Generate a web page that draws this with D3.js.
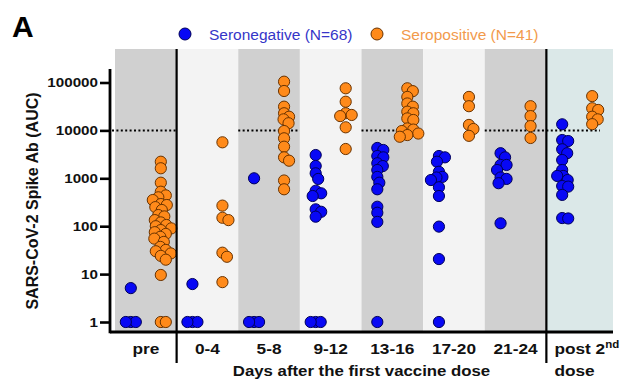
<!DOCTYPE html>
<html>
<head>
<meta charset="utf-8">
<script src="https://cdn.jsdelivr.net/npm/d3@7"></script>
<style>
  body { margin: 0; background: #fff; }
  text { font-family: "Liberation Sans", Arial, sans-serif; }
</style>
</head>
<body>
<script>
// categories
const groups = ['pre', '0-4', '5-8', '9-12', '13-16', '17-20', '21-24', 'post']
const yTicks = [1, 10, 100, 1000, 10000, 100000]
const threshold = 10000

// seronegative (blue) AUC values per group
const negPre = [5.1, 1, 1, 1]
const neg0_4 = [6.2, 1, 1, 1]
const neg5_8 = [1000, 1, 1, 1]
const neg9_12 = [3060, 1810, 1270, 970, 550, 486, 427, 225, 200, 158, 1, 1, 1]
const neg13_16 = [4300, 3900, 2920, 2740, 2060, 1800, 1490, 1070, 810, 590, 255, 191, 123, 1]
const neg17_20 = [2920, 2740, 2220, 1370, 1070, 1040, 920, 650, 427, 98, 20.6, 1]
const neg21_24 = [3340, 2740, 1900, 1900, 1490, 1040, 970, 790, 115]
const negPost = [13400, 6300, 6000, 4040, 3340, 2410, 1490, 1120, 1120, 920, 690, 670, 450, 148, 145]

// seropositive (orange) AUC values per group
const posPre = [2220, 1620, 809, 525, 440, 401, 352, 290, 277, 250, 218, 171, 160, 134, 120, 106, 100, 90, 83, 75, 69, 60, 55, 47, 37, 32, 30, 27, 24, 20, 9.6, 1, 1]
const pos0_4 = [5640, 269, 150, 134, 28, 23, 6.8]
const pos5_8 = [104000, 66500, 31300, 22800, 19300, 17000, 14100, 9700, 6840, 4570, 2740, 2330, 900, 590]
const pos9_12 = [75700, 39700, 22800, 21000, 19900, 11600, 4090]
const pos13_16 = [75700, 66000, 50000, 36500, 31300, 24600, 22800, 17800, 16500, 11000, 10400, 9700, 8600, 8000, 7370]
const pos17_20 = [50000, 32000, 13000, 10700, 7700]
const pos21_24 = [32000, 19900, 12300, 6950]
const posPost = [52000, 29000, 26700, 19300, 17000, 13500]

const negative = [negPre, neg0_4, neg5_8, neg9_12, neg13_16, neg17_20, neg21_24, negPost]
const positive = [posPre, pos0_4, pos5_8, pos9_12, pos13_16, pos17_20, pos21_24, posPost]

const w = 640
const h = 386
const plotLeft = 110
const plotRight = 613
const plotTop = 49
const plotBottom = 332

const svg = d3.select('body').append('svg')
    .attr('width', w)
    .attr('height', h)

const x = d3.scaleBand().domain(groups).range([115, 608])
const y = d3.scaleLog().domain([1, 100000]).range([322, 82.5])

const bandFill = ['#d0d0d0', '#f3f3f3', '#d0d0d0', '#f3f3f3', '#d0d0d0', '#f3f3f3', '#d0d0d0', '#dbe8e8']

// background bands
svg.selectAll('rect.band')
    .data(groups)
    .enter()
    .append('rect')
    .attr('class', 'band')
    .attr('x', d => x(d))
    .attr('y', plotTop)
    .attr('width', (d, i) => i === groups.length - 1 ? plotRight - x(d) : x.bandwidth())
    .attr('height', plotBottom - plotTop + 1)
    .attr('fill', (d, i) => bandFill[i])

// dotted threshold line on the grey bands and the post band
const dotted = [0, 2, 4, 6, 7]
svg.selectAll('line.thr')
    .data(dotted)
    .enter()
    .append('line')
    .attr('x1', i => i === 0 ? plotLeft + 2 : x(groups[i]))
    .attr('x2', i => i === 7 ? x(groups[i]) + x.bandwidth() - 8 : x(groups[i]) + x.bandwidth())
    .attr('y1', y(threshold))
    .attr('y2', y(threshold))
    .attr('stroke', '#000')
    .attr('stroke-width', 2)
    .attr('stroke-dasharray', '2,2.4')

// simple beeswarm so overlapping points spread sideways
function swarm(values, cx) {
    const placed = []
    const minD = 6
    values.forEach(v => {
        const py = y(v)
        // tied values at the floor sit closer together
        const d = v === 1 ? 4.8 : minD
        let off = 0
        for (let k = 0; k < 80; k++) {
            const o = (k % 2 ? 1 : -1) * Math.ceil(k / 2) * 0.5
            const hit = placed.some(p => (p.x - (cx + o)) ** 2 + (p.y - py) ** 2 < d * d)
            if (!hit) { off = o; break }
        }
        placed.push({ x: cx + off, y: py })
    })
    return placed
}

const dotR = 5.6
function drawSeries(series, shift, fill, stroke) {
    series.forEach((vals, i) => {
        const cx = x(groups[i]) + x.bandwidth() / 2 + shift
        svg.append('g').selectAll('circle')
            .data(swarm(vals, cx))
            .enter()
            .append('circle')
            .attr('cx', d => d.x)
            .attr('cy', d => d.y)
            .attr('r', dotR)
            .attr('fill', fill)
            .attr('stroke', stroke)
            .attr('stroke-width', 1)
    })
}
drawSeries(negative, -15, '#0808f5', '#00005a')
drawSeries(positive, 15, '#ff8a1a', '#6a3300')

// y axis
const yAxis = d3.axisLeft(y)
    .tickValues(yTicks)
    .tickFormat(d3.format('d'))
    .tickSize(10)
    .tickSizeOuter(0)
const ga = svg.append('g')
    .attr('transform', `translate(${plotLeft},0)`)
    .call(yAxis)
ga.select('.domain').remove()
ga.selectAll('.tick line').attr('stroke', '#000').attr('stroke-width', 2.6)
ga.selectAll('.tick text')
    .attr('x', -12 / 1.17)
    .attr('transform', 'scale(1.17,1)')
    .attr('font-size', 13)
    .attr('font-weight', 'bold')
    .attr('font-family', '"Liberation Sans", Arial, sans-serif')
    .attr('fill', '#111')

svg.append('line')
    .attr('x1', plotLeft).attr('x2', plotLeft)
    .attr('y1', 69).attr('y2', plotBottom + 1.3)
    .attr('stroke', '#000').attr('stroke-width', 2.8)
svg.append('line')
    .attr('x1', plotLeft).attr('x2', plotRight)
    .attr('y1', plotBottom).attr('y2', plotBottom)
    .attr('stroke', '#000').attr('stroke-width', 2.8)

// separators between pre / first dose / post 2nd dose
svg.selectAll('line.sep')
    .data(['0-4', 'post'])
    .enter()
    .append('line')
    .attr('x1', d => x(d)).attr('x2', d => x(d))
    .attr('y1', plotTop).attr('y2', 363)
    .attr('stroke', '#000').attr('stroke-width', 2.2)

// category labels
const xAxis = d3.axisBottom(x).tickSize(0).tickSizeOuter(0)
const gx = svg.append('g')
    .attr('transform', `translate(0,${plotBottom})`)
    .call(xAxis)
gx.select('.domain').remove()
gx.selectAll('.tick')
    .filter(d => d === 'post')
    .remove()
gx.selectAll('.tick text')
    .attr('y', 22)
    .attr('dy', 0)
    .attr('transform', 'scale(1.15,1)')
    .attr('font-size', 15)
    .attr('font-weight', 'bold')
    .attr('font-family', '"Liberation Sans", Arial, sans-serif')
    .attr('fill', '#111')

const post = svg.append('text')
    .attr('transform', `translate(${x('post') + 8},354) scale(1.15,1)`)
    .attr('font-size', 15)
    .attr('font-weight', 'bold')
    .attr('fill', '#111')
post.append('tspan').text('post 2')
post.append('tspan').attr('font-size', 10).attr('dy', -6).text('nd')
svg.append('text')
    .attr('transform', `translate(${x('post') + 8},376) scale(1.15,1)`)
    .attr('font-size', 15)
    .attr('font-weight', 'bold')
    .attr('fill', '#111')
    .text('dose')

svg.append('text')
    .attr('transform', `translate(${(x('0-4') + x('post')) / 2},376) scale(1.12,1)`)
    .attr('text-anchor', 'middle')
    .attr('font-size', 15)
    .attr('font-weight', 'bold')
    .attr('fill', '#111')
    .text('Days after the first vaccine dose')

svg.append('text')
    .attr('transform', 'translate(37.5,201) rotate(-90)')
    .attr('text-anchor', 'middle')
    .attr('font-size', 16)
    .attr('font-weight', 'bold')
    .attr('fill', '#111')
    .text('SARS-CoV-2 Spike Ab (AUC)')

svg.append('text')
    .attr('x', 12).attr('y', 37)
    .attr('font-size', 30)
    .attr('font-weight', 'bold')
    .attr('fill', '#000')
    .text('A')

// legend
const legend = [
    { label: 'Seronegative (N=68)', fill: '#0808f5', stroke: '#00005a', text: '#3535c8', cx: 185 },
    { label: 'Seropositive (N=41)', fill: '#ff8a1a', stroke: '#6a3300', text: '#f29a4c', cx: 377 }
]
const lg = svg.selectAll('g.leg').data(legend).enter().append('g')
lg.append('circle')
    .attr('cx', d => d.cx).attr('cy', 34).attr('r', 6)
    .attr('fill', d => d.fill).attr('stroke', d => d.stroke)
lg.append('text')
    .attr('x', d => d.cx + 24).attr('y', 39.5)
    .attr('font-size', 15.5)
    .attr('fill', d => d.text)
    .text(d => d.label)
</script>
</body>
</html>
